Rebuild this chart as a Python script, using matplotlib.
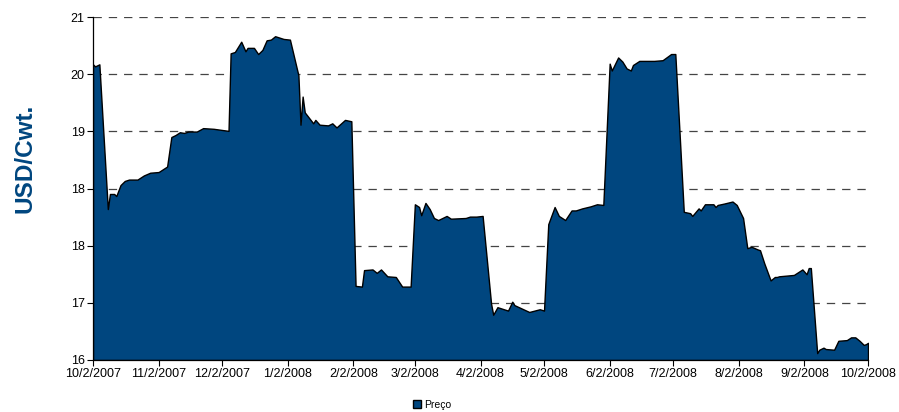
import matplotlib
matplotlib.use("Agg")
import matplotlib.pyplot as plt
import numpy as np
import pandas as pd

start_date = "2007-10-02"
end_date = "2008-10-02"

days_from_start = [
    0, 1, 3, 7, 8, 10, 11, 13, 15, 17, 21, 24, 27, 31, 35, 37, 39, 41, 43, 45,
    49, 52, 57, 64, 65, 67, 70, 72, 73, 76, 78, 80, 82, 84, 86, 88, 90, 93, 97, 98,
    99, 100, 104, 105, 107, 111, 113, 115, 119, 122, 124, 127, 128, 132, 134, 136, 139, 143, 146, 150,
    152, 154, 155, 157, 159, 161, 163, 167, 169, 176, 178, 181, 184, 188, 189, 191, 196, 198, 199, 206,
    211, 213, 215, 218, 220, 223, 226, 228, 231, 235, 238, 241, 244, 245, 248, 250, 252, 254, 255, 258,
    260, 265, 269, 273, 275, 279, 282, 283, 286, 287, 289, 293, 294, 295, 298, 302, 304, 307, 309, 311,
    314, 315, 317, 320, 322, 323, 324, 331, 335, 337, 338, 339, 342, 343, 345, 346, 350, 352, 356, 358,
    360, 362, 364, 365, 366,
]

price = [
    20.31, 20.28, 20.31, 18.20, 18.42, 18.42, 18.39, 18.55, 18.61, 18.63, 18.63, 18.69, 18.73, 18.74, 18.82, 19.25, 19.28, 19.32, 19.31, 19.33,
    19.33, 19.38, 19.37, 19.34, 20.47, 20.49, 20.64, 20.50, 20.55, 20.55, 20.46, 20.52, 20.66, 20.67, 20.72, 20.70, 20.68, 20.67, 20.15, 19.43,
    19.84, 19.61, 19.45, 19.50, 19.43, 19.42, 19.45, 19.39, 19.50, 19.48, 17.08, 17.07, 17.31, 17.32, 17.27, 17.32, 17.22, 17.21, 17.07, 17.07,
    18.27, 18.23, 18.11, 18.29, 18.20, 18.07, 18.04, 18.10, 18.06, 18.07, 18.09, 18.09, 18.10, 16.82, 16.66, 16.77, 16.72, 16.85, 16.80, 16.70,
    16.74, 16.72, 17.98, 18.23, 18.10, 18.04, 18.18, 18.18, 18.21, 18.24, 18.27, 18.26, 20.32, 20.22, 20.41, 20.35, 20.25, 20.22, 20.30, 20.36,
    20.36, 20.36, 20.37, 20.46, 20.46, 18.16, 18.14, 18.10, 18.21, 18.18, 18.27, 18.27, 18.23, 18.26, 18.28, 18.31, 18.26, 18.07, 17.63, 17.65,
    17.61, 17.60, 17.41, 17.16, 17.21, 17.21, 17.22, 17.24, 17.32, 17.25, 17.34, 17.34, 16.10, 16.15, 16.18, 16.16, 16.15, 16.28, 16.29, 16.33,
    16.33, 16.28, 16.22, 16.23, 16.25,
]

y_min, y_max, n_yticks = 16, 21, 7
series_name = "Preço"
y_label = "USD/Cwt."

BLUE = "#00467F"
plt.rcParams["font.family"] = ["Liberation Sans", "DejaVu Sans"]
plt.rcParams["lines.scale_dashes"] = False

t0 = pd.Timestamp(start_date)
t1 = pd.Timestamp(end_date)
dates = t0 + pd.to_timedelta(days_from_start, unit="D")

fig = plt.figure(figsize=(8.99, 4.12), dpi=100)
ax = fig.add_axes([93 / 899, 1 - 360 / 412, (868 - 93) / 899, (360 - 17) / 412])

ax.fill_between(dates, price, y_min, facecolor=BLUE, edgecolor="black",
                linewidth=1.0, label=series_name, zorder=3)

ax.set_xlim(t0, t1)
ax.set_ylim(y_min, y_max)

yt = np.linspace(y_min, y_max, n_yticks)
ax.set_yticks(yt)
ax.set_yticklabels(["{:.0f}".format(v) for v in yt])

month_starts = pd.date_range(t0.replace(day=1), t1, freq="MS")
xt = [d + pd.Timedelta(days=t0.day - 1) for d in month_starts]
xt = [d for d in xt if t0 <= d <= t1]
ax.set_xticks(xt)
ax.set_xticklabels([f"{d.month}/{d.day}/{d.year}" for d in xt])

ax.tick_params(axis="both", direction="out", length=4, width=0.8, labelsize=9,
               colors="black", pad=2)
ax.grid(axis="y", linestyle=(0, (6, 5)), color="#444444", linewidth=0.9)
ax.set_axisbelow(True)
for s in ["top", "right"]:
    ax.spines[s].set_visible(False)
for s in ["left", "bottom"]:
    ax.spines[s].set_linewidth(0.9)
    ax.spines[s].set_zorder(4)

fig.text(25 / 899, 1 - 158 / 412, y_label, rotation=90, ha="center", va="center",
         fontsize=17.5, fontweight="bold", color=BLUE)

leg = fig.legend(loc="center", bbox_to_anchor=(432 / 899, 1 - 405 / 412), frameon=False,
                 fontsize=7.5, handlelength=0.8, handleheight=0.8, handletextpad=0.3,
                 borderpad=0)

fig.savefig("out.png", dpi=100)
